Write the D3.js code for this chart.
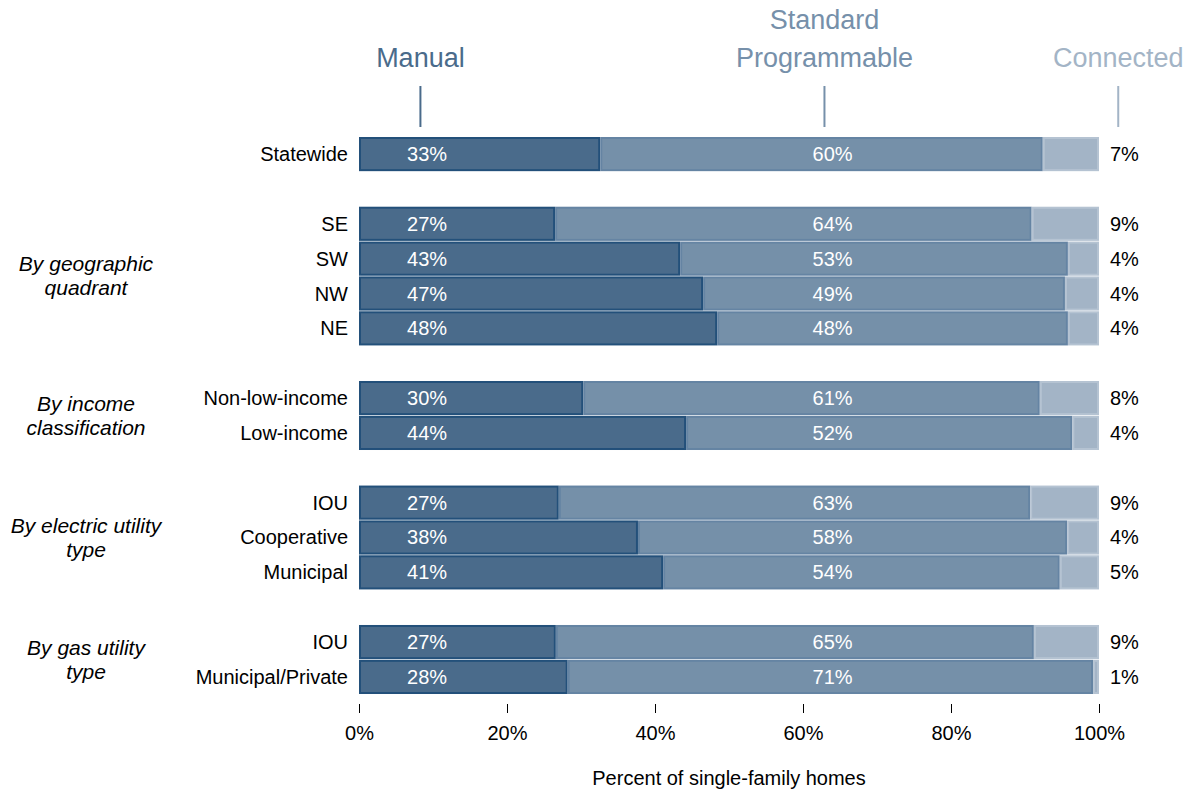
<!DOCTYPE html>
<html>
<head>
<meta charset="utf-8">
<script src="https://cdn.jsdelivr.net/npm/d3@7"></script>
<style>
  body { margin: 0; background: #fff; }
  svg text { font-family: "Liberation Sans", Arial, sans-serif; }
</style>
</head>
<body>
<div id="chart"></div>
<script>
// rows, top to bottom ("" = gap between groups)
const rows = ['Statewide', '', 'SE', 'SW', 'NW', 'NE', '', 'Non-low-income', 'Low-income', '',
  'IOU', 'Cooperative', 'Municipal', '', 'IOU ', 'Municipal/Private'];

const categories = ['Statewide', 'SE', 'SW', 'NW', 'NE', 'Non-low-income', 'Low-income',
  'IOU', 'Cooperative', 'Municipal', 'IOU ', 'Municipal/Private'];

// bar values (percent)
const manual    = [32.6, 26.5, 43.4, 46.5, 48.4, 30.3, 44.2, 27.0, 37.7, 41.1, 26.6, 28.2];
const standard  = [59.8, 64.4, 52.4, 48.9, 47.4, 61.7, 52.2, 63.7, 58.0, 53.6, 64.6, 71.0];
const connected = [7.6, 9.1, 4.2, 4.6, 4.2, 8.0, 3.6, 9.3, 4.3, 5.3, 8.8, 0.8];

// printed labels
const manualLabels    = ['33%', '27%', '43%', '47%', '48%', '30%', '44%', '27%', '38%', '41%', '27%', '28%'];
const standardLabels  = ['60%', '64%', '53%', '49%', '48%', '61%', '52%', '63%', '58%', '54%', '65%', '71%'];
const connectedLabels = ['7%', '9%', '4%', '4%', '4%', '8%', '4%', '9%', '4%', '5%', '9%', '1%'];

const groups = [
  { lines: ['By geographic', 'quadrant'], first: 'SE', last: 'NE' },
  { lines: ['By income', 'classification'], first: 'Non-low-income', last: 'Low-income' },
  { lines: ['By electric utility', 'type'], first: 'IOU', last: 'Municipal' },
  { lines: ['By gas utility', 'type'], first: 'IOU ', last: 'Municipal/Private' }
];

const xTicks = [0, 20, 40, 60, 80, 100];
const series = ['Manual', 'Standard Programmable', 'Connected'];

const W = 1193, H = 793;
const svg = d3.select('#chart').append('svg').attr('width', W).attr('height', H);

const x = d3.scaleLinear().domain([0, 100]).range([359, 1099]);
const y = d3.scaleBand().domain(rows.map((r, i) => i + '|' + r)).range([137, 694]).paddingInner(0.02);
const rowKey = c => rows.indexOf(c) + '|' + c;

const colors = {
  manual:    { fill: '#4a6b8b', stroke: '#23507a' },
  standard:  { fill: '#7590a9', stroke: '#6584a3' },
  connected: { fill: '#a3b4c6', stroke: '#b5c3d2' }
};

const data = categories.map((c, i) => ({
  cat: c, m: manual[i], s: standard[i], c: connected[i],
  ml: manualLabels[i], sl: standardLabels[i], cl: connectedLabels[i]
}));

const bars = svg.append('g');
data.forEach(d => {
  const yy = y(rowKey(d.cat)), bh = y.bandwidth();
  const segs = [
    { x0: 0, x1: d.m, col: colors.manual },
    { x0: d.m, x1: d.m + d.s, col: colors.standard },
    { x0: d.m + d.s, x1: 100, col: colors.connected }
  ];
  segs.forEach(s => {
    bars.append('rect')
      .attr('x', x(s.x0) + 1)
      .attr('y', yy + 1)
      .attr('width', Math.max(0, x(s.x1) - x(s.x0) - 2))
      .attr('height', bh - 2)
      .attr('fill', s.col.fill)
      .attr('stroke', s.col.stroke)
      .attr('stroke-width', 2);
  });
  const cy = yy + bh / 2;
  bars.append('text').attr('x', x(9.2)).attr('y', cy).attr('dy', '0.35em')
    .attr('text-anchor', 'middle').attr('fill', '#fff').attr('font-size', 20).text(d.ml);
  bars.append('text').attr('x', x(64)).attr('y', cy).attr('dy', '0.35em')
    .attr('text-anchor', 'middle').attr('fill', '#fff').attr('font-size', 20).text(d.sl);
  bars.append('text').attr('x', 1110).attr('y', cy).attr('dy', '0.35em')
    .attr('text-anchor', 'start').attr('fill', '#000').attr('font-size', 20).text(d.cl);
  // category label
  bars.append('text').attr('x', 348).attr('y', cy).attr('dy', '0.35em')
    .attr('text-anchor', 'end').attr('fill', '#000').attr('font-size', 20).text(d.cat.trim());
});

// group labels
groups.forEach(g => {
  const top = y(rowKey(g.first)), bot = y(rowKey(g.last)) + y.bandwidth();
  const mid = (top + bot) / 2;
  const t = svg.append('text').attr('x', 86).attr('text-anchor', 'middle')
    .attr('font-size', 21).attr('font-style', 'italic').attr('fill', '#000');
  g.lines.forEach((l, i) => {
    t.append('tspan').attr('x', 86)
      .attr('y', mid + (i - (g.lines.length - 1) / 2) * 24).attr('dy', '0.35em').text(l);
  });
});

// x axis: small ticks + labels, no domain line
const axis = svg.append('g').attr('transform', 'translate(0,704)')
  .call(d3.axisBottom(x).tickValues(xTicks).tickSize(9).tickPadding(13).tickFormat(d => d + '%'));
axis.select('.domain').remove();
axis.selectAll('line').attr('stroke', '#000');
axis.selectAll('text').attr('font-size', 20).attr('font-family', '"Liberation Sans", Arial, sans-serif').attr('fill', '#000');

svg.append('text').attr('x', 729).attr('y', 785).attr('text-anchor', 'middle')
  .attr('font-size', 20).attr('fill', '#000').text('Percent of single-family homes');

// series headers above bars
const headers = [
  { lines: ['Manual'], at: 8.3, color: '#4a6b8b' },
  { lines: ['Standard', 'Programmable'], at: 62.9, color: '#7690aa' },
  { lines: ['Connected'], at: 102.6, color: '#a3b4c6' }
];
headers.forEach((h, i) => {
  const t = svg.append('text').attr('text-anchor', 'middle').attr('fill', h.color)
    .attr('font-size', 27).attr('font-family', 'Lato, "Open Sans", sans-serif');
  h.lines.forEach((l, j) => {
    t.append('tspan').attr('x', x(h.at)).attr('y', 67 - (h.lines.length - 1 - j) * 38).text(l);
  });
  svg.append('line').attr('x1', x(h.at)).attr('x2', x(h.at)).attr('y1', 86).attr('y2', 127)
    .attr('stroke', h.color).attr('stroke-width', 2).attr('aria-label', series[i]);
});
</script>
</body>
</html>
